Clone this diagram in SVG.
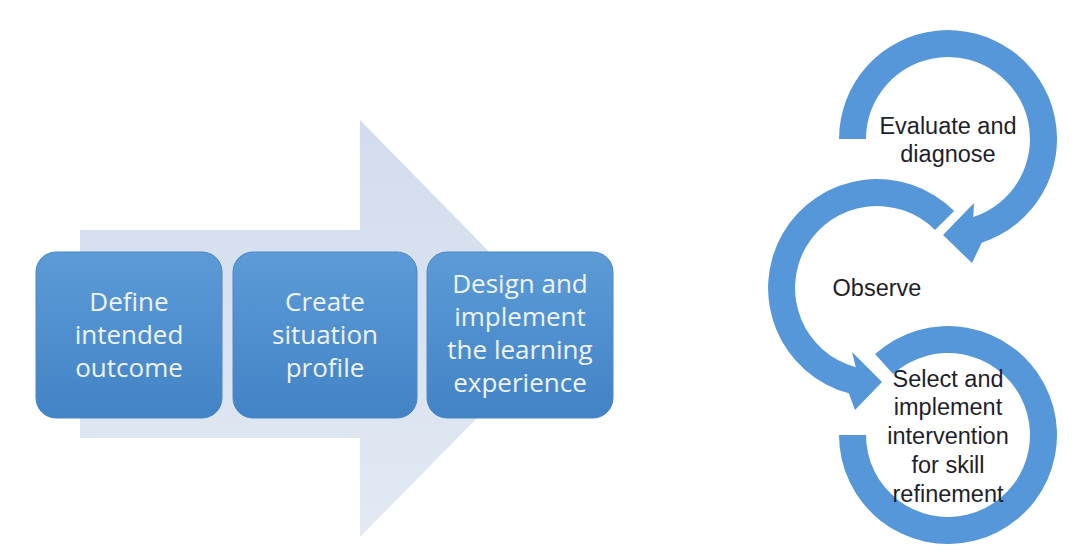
<svg xmlns="http://www.w3.org/2000/svg" width="1075" height="554" viewBox="0 0 1075 554">
  <style>
    .box { fill: url(#boxFill); stroke: #4a88c8; stroke-width: 1; }
    .boxText { font-family: "Open Sans", "Liberation Sans", sans-serif; font-size: 26px; fill: #eef3fa; text-anchor: middle; }
    .ring { fill: #5597d8; }
    .ringText { font-family: "Liberation Sans", Arial, sans-serif; font-size: 23.5px; fill: #1e1e2c; text-anchor: middle; }
  </style>
  <defs>
    <linearGradient id="arrowFill" x1="0" y1="0" x2="0" y2="1">
      <stop offset="0" stop-color="#d2dcec"/>
      <stop offset="1" stop-color="#e2e9f3"/>
    </linearGradient>
    <linearGradient id="boxFill" x1="0" y1="0" x2="0" y2="1">
      <stop offset="0" stop-color="#5c9bd7"/>
      <stop offset="1" stop-color="#4283c6"/>
    </linearGradient>
  </defs>

  <rect width="1075" height="554" fill="#ffffff"/>

  <!-- Broad background arrow behind the process steps -->
  <g id="process-arrow">
    <path d="M80 230 H360 V120 L565 329 L360 537 V438 H80 Z" fill="url(#arrowFill)"/>
  </g>

  <!-- Process steps -->
  <g id="step-define">
    <rect class="box" x="36" y="252" width="186" height="166" rx="20"/>
    <text class="boxText" x="129"><tspan x="129" y="311">Define</tspan><tspan x="129" y="344">intended</tspan><tspan x="129" y="377">outcome</tspan></text>
  </g>
  <g id="step-profile">
    <rect class="box" x="233" y="252" width="184" height="166" rx="20"/>
    <text class="boxText" x="325"><tspan x="325" y="311">Create</tspan><tspan x="325" y="344">situation</tspan><tspan x="325" y="377">profile</tspan></text>
  </g>
  <g id="step-design">
    <rect class="box" x="427" y="252" width="186" height="166" rx="20"/>
    <text class="boxText" x="520"><tspan x="520" y="293">Design and</tspan><tspan x="520" y="326">implement</tspan><tspan x="520" y="359">the learning</tspan><tspan x="520" y="392">experience</tspan></text>
  </g>

  <!-- Cycle arrows -->
  <g id="connectors">
    <!-- bottom ring: plain open arc, no head -->
    <path class="ring" d="M875.1 354 A109 109 0 1 1 839 435 L866 435 A82 82 0 1 0 893.1 374.1 Z"/>
    <!-- middle ring: counter-clockwise, head at lower right -->
    <path class="ring" d="M954.1 210.9 A109 109 0 1 0 848.8 393.3 L855 410 L882 382 L852 352 L855.8 367.2 A82 82 0 1 1 935 230 Z"/>
    <!-- top ring: clockwise, head at lower left -->
    <path class="ring" d="M839 139 A109 109 0 1 1 981.7 242.7 L972 263 L943 235 L974 203 L973.3 217 A82 82 0 1 0 866 139 Z"/>
  </g>

  <g id="cycle-evaluate">
    <text class="ringText"><tspan x="948" y="134">Evaluate and</tspan><tspan x="948" y="162">diagnose</tspan></text>
  </g>
  <g id="cycle-observe">
    <text class="ringText" x="877" y="296">Observe</text>
  </g>
  <g id="cycle-select">
    <text class="ringText"><tspan x="948" y="387">Select and</tspan><tspan x="948" y="415">implement</tspan><tspan x="948" y="444">intervention</tspan><tspan x="948" y="473">for skill</tspan><tspan x="948" y="502">refinement</tspan></text>
  </g>
</svg>
